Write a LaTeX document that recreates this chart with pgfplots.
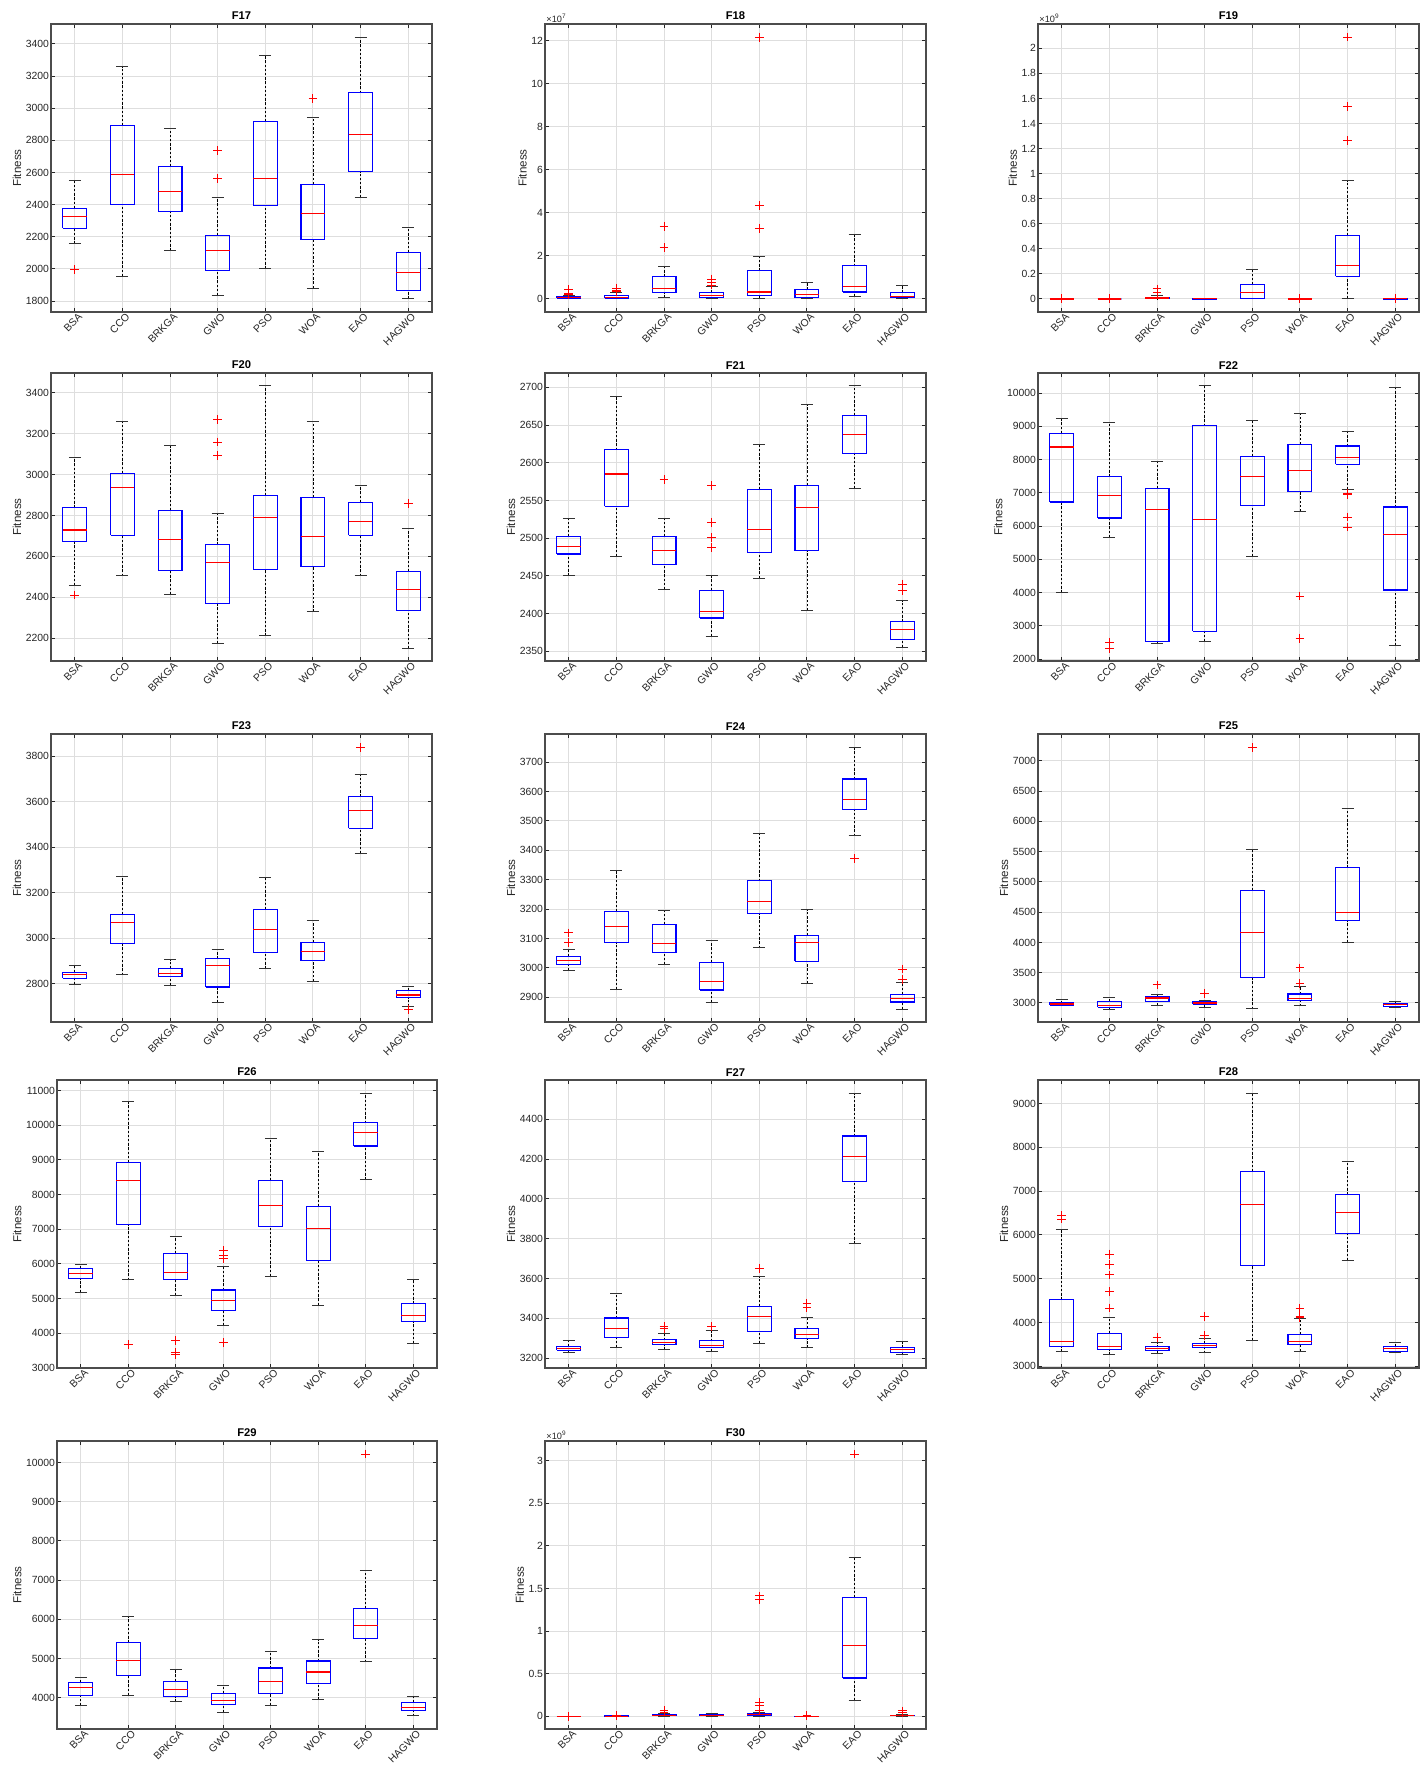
\documentclass[border=0pt]{standalone}
\usepackage{fontspec}
\setmainfont{Liberation Sans}
\usepackage{pgfplots}
\pgfplotsset{compat=1.18}

\definecolor{mgrid}{RGB}{222,222,222}
\definecolor{mtext}{RGB}{38,38,38}

\pgfplotsset{
  panel/.style={
    scale only axis, width=190.5pt, height=144pt, anchor=north west,
    xmin=0.5, xmax=8.5, xtick={1,...,8},
    xticklabels={BSA,CCO,BRKGA,GWO,PSO,WOA,EAO,HAGWO},
    xticklabel style={rotate=45, anchor=north east, inner sep=1pt, xshift=2pt},
    yticklabel style={inner sep=0.8pt},
    scaled y ticks=false,
    /pgf/number format/assume math mode=true,
    /pgf/number format/1000 sep={},
    tick label style={font=\fontsize{5.2}{6}\selectfont, text=mtext},
    label style={font=\fontsize{5.8}{7}\selectfont, text=mtext},
    title style={font=\fontsize{5.6}{7}\selectfont\bfseries, inner sep=0pt, yshift=-4.2pt},
    ylabel=Fitness, ylabel shift=-2pt,
    grid=major, major grid style={mgrid, line width=0.5pt},
    tick align=inside, tick pos=both, major tick length=2.2pt,
    tick style={mtext, line width=0.5pt},
    axis line style={black!70, line width=0.6pt},
  },
  whisk/.style={black, line width=0.4pt, dash pattern=on 1.2pt off 0.9pt, mark=none},
  cap/.style={black!80, line width=0.5pt, solid, mark=none},
  boxs/.style={blue, line width=0.55pt, solid, mark=none},
  med/.style={red, line width=0.55pt, solid, mark=none},
  outl/.style={only marks, mark=+, mark size=2.2pt,
    mark options={solid, red, line width=0.45pt}},
}

% position, lower whisker, lower quartile, median, upper quartile, upper whisker
\newcommand{\bx}[6]{%
  \pgfmathsetmacro{\xa}{#1-0.25}\pgfmathsetmacro{\xb}{#1+0.25}%
  \pgfmathsetmacro{\xc}{#1-0.125}\pgfmathsetmacro{\xd}{#1+0.125}%
  \edef\tmp{%
    \noexpand\addplot[whisk] coordinates {(#1,#2) (#1,#3)};
    \noexpand\addplot[whisk] coordinates {(#1,#5) (#1,#6)};
    \noexpand\addplot[cap] coordinates {(\xc,#2) (\xd,#2)};
    \noexpand\addplot[cap] coordinates {(\xc,#6) (\xd,#6)};
    \noexpand\addplot[boxs] coordinates {(\xa,#3) (\xb,#3) (\xb,#5) (\xa,#5) (\xa,#3)};
    \noexpand\addplot[med] coordinates {(\xa,#4) (\xb,#4)};
  }\tmp}

\newcommand{\expo}[1]{\node[anchor=south west, inner sep=0.5pt, text=mtext,
  font=\fontsize{4.6}{5}\selectfont] at (rel axis cs:0,1) {×10\textsuperscript{#1}};}

\begin{document}
\begin{tikzpicture}
\useasboundingbox (0,0) rectangle (714pt,-888.5pt);

% ---- row 1
\begin{axis}[panel, at={(25.5pt,-12pt)}, title={F17},
  ymin=1732, ymax=3524, ytick={1800,2000,...,3400}]
\bx{1}{2156}{2254}{2326}{2378}{2550}
\bx{2}{1955}{2399}{2586}{2892}{3259}
\bx{3}{2113}{2360}{2482}{2637}{2871}
\bx{4}{1835}{1989}{2113}{2210}{2442}
\bx{5}{2001}{2393}{2565}{2917}{3325}
\bx{6}{1881}{2183}{2343}{2527}{2942}
\bx{7}{2447}{2606}{2836}{3095}{3443}
\bx{8}{1814}{1866}{1976}{2103}{2258}
\addplot[outl] coordinates {(1,1997) (4,2737) (4,2561) (6,3060)};
\end{axis}

\begin{axis}[panel, at={(272.5pt,-12pt)}, title={F18}, clip=false,
  ymin=-0.61, ymax=12.76, ytick={0,2,...,12}]
\bx{1}{0}{0.02}{0.05}{0.09}{0.14}
\bx{2}{0}{0.03}{0.08}{0.15}{0.28}
\bx{3}{0.05}{0.28}{0.49}{1.02}{1.48}
\bx{4}{0.02}{0.06}{0.14}{0.28}{0.56}
\bx{5}{0.03}{0.15}{0.32}{1.30}{1.95}
\bx{6}{0.02}{0.06}{0.19}{0.42}{0.77}
\bx{7}{0.11}{0.32}{0.59}{1.53}{2.97}
\bx{8}{0.02}{0.05}{0.11}{0.28}{0.63}
\addplot[outl] coordinates {(1,0.42) (1,0.26) (1,0.19) (2,0.50) (2,0.40) (2,0.34)
  (3,3.37) (3,2.37) (4,0.92) (4,0.78) (4,0.64) (5,12.14) (5,4.35) (5,3.28)};
\expo{7}
\end{axis}

\begin{axis}[panel, at={(519pt,-12pt)}, title={F19}, clip=false,
  ymin=-0.104, ymax=2.194, ytick={0,0.2,...,2.01}]
\bx{1}{0}{0}{0}{0}{0}
\bx{2}{0}{0}{0}{0}{0}
\bx{3}{0}{0.003}{0.008}{0.013}{0.03}
\bx{4}{0}{0}{0.001}{0.003}{0.004}
\bx{5}{0}{0.005}{0.05}{0.114}{0.236}
\bx{6}{0}{0}{0}{0}{0}
\bx{7}{0.005}{0.18}{0.268}{0.507}{0.943}
\bx{8}{0}{0}{0.001}{0.002}{0.004}
\addplot[outl] coordinates {(1,0.001) (2,0.001) (3,0.08) (3,0.05) (6,0.001)
  (7,2.09) (7,1.538) (7,1.262) (8,0.006)};
\expo{9}
\end{axis}

% ---- row 2
\begin{axis}[panel, at={(25.5pt,-186.5pt)}, title={F20},
  ymin=2088, ymax=3497, ytick={2200,2400,...,3400}]
\bx{1}{2457}{2671}{2729}{2838}{3082}
\bx{2}{2504}{2703}{2938}{3007}{3262}
\bx{3}{2414}{2532}{2681}{2824}{3140}
\bx{4}{2174}{2369}{2568}{2657}{2809}
\bx{5}{2211}{2537}{2789}{2897}{3436}
\bx{6}{2329}{2550}{2698}{2888}{3262}
\bx{7}{2504}{2704}{2770}{2865}{2948}
\bx{8}{2149}{2333}{2436}{2526}{2737}
\addplot[outl] coordinates {(1,2411) (4,3271) (4,3159) (4,3094) (8,2860)};
\end{axis}

\begin{axis}[panel, at={(272.5pt,-186.5pt)}, title={F21},
  ymin=2337, ymax=2719, ytick={2350,2400,...,2700}]
\bx{1}{2450}{2479}{2489}{2502}{2526}
\bx{2}{2476}{2542}{2585}{2617}{2688}
\bx{3}{2432}{2465}{2483}{2502}{2526}
\bx{4}{2370}{2394}{2403}{2431}{2451}
\bx{5}{2447}{2481}{2512}{2565}{2624}
\bx{6}{2404}{2483}{2541}{2570}{2677}
\bx{7}{2566}{2612}{2637}{2663}{2702}
\bx{8}{2355}{2366}{2379}{2389}{2417}
\addplot[outl] coordinates {(3,2578) (4,2570) (4,2521) (4,2501) (4,2488)
  (8,2439) (8,2431)};
\end{axis}

\begin{axis}[panel, at={(519pt,-186.5pt)}, title={F22},
  ymin=1940, ymax=10605, ytick={2000,3000,...,10000}]
\bx{1}{3995}{6725}{8378}{8791}{9244}
\bx{2}{5667}{6242}{6907}{7481}{9113}
\bx{3}{2453}{2524}{6494}{7139}{7945}
\bx{4}{2524}{2836}{6202}{9013}{10232}
\bx{5}{5083}{6625}{7491}{8096}{9184}
\bx{6}{6443}{7027}{7683}{8458}{9375}
\bx{7}{7108}{7864}{8065}{8408}{8841}
\bx{8}{2403}{4076}{5738}{6574}{10181}
\addplot[outl] coordinates {(2,2504) (2,2312) (6,3894) (6,2625)
  (7,6990) (7,6950) (7,6272) (7,5970)};
\end{axis}

% ---- row 3
\begin{axis}[panel, at={(25.5pt,-367pt)}, title={F23},
  ymin=2631, ymax=3898, ytick={2800,3000,...,3800}]
\bx{1}{2797}{2824}{2841}{2849}{2878}
\bx{2}{2838}{2975}{3069}{3105}{3270}
\bx{3}{2793}{2832}{2844}{2866}{2906}
\bx{4}{2718}{2785}{2881}{2909}{2951}
\bx{5}{2865}{2935}{3039}{3126}{3266}
\bx{6}{2810}{2901}{2943}{2981}{3079}
\bx{7}{3374}{3483}{3561}{3622}{3718}
\bx{8}{2699}{2737}{2750}{2769}{2787}
\addplot[outl] coordinates {(7,3840) (8,2686)};
\end{axis}

\begin{axis}[panel, at={(272.5pt,-367pt)}, title={F24},
  ymin=2816, ymax=3796, ytick={2900,3000,...,3700}]
\bx{1}{2992}{3011}{3026}{3039}{3064}
\bx{2}{2927}{3085}{3140}{3192}{3333}
\bx{3}{3011}{3053}{3083}{3148}{3197}
\bx{4}{2882}{2925}{2955}{3019}{3094}
\bx{5}{3068}{3184}{3226}{3296}{3459}
\bx{6}{2947}{3023}{3085}{3111}{3198}
\bx{7}{3449}{3539}{3572}{3643}{3751}
\bx{8}{2860}{2884}{2897}{2909}{2950}
\addplot[outl] coordinates {(1,3119) (1,3086) (7,3371) (8,2996) (8,2961)};
\end{axis}

\begin{axis}[panel, at={(519pt,-367pt)}, title={F25},
  ymin=2686, ymax=7441, ytick={3000,3500,...,7000}]
\bx{1}{2951}{2962}{2984}{3000}{3050}
\bx{2}{2895}{2928}{2962}{3028}{3094}
\bx{3}{2956}{3028}{3083}{3105}{3143}
\bx{4}{2928}{2984}{3000}{3022}{3044}
\bx{5}{2901}{3424}{4168}{4862}{5540}
\bx{6}{2951}{3039}{3077}{3149}{3276}
\bx{7}{3997}{4361}{4488}{5231}{6212}
\bx{8}{2923}{2945}{2973}{2989}{3022}
\addplot[outl] coordinates {(3,3298) (4,3160) (5,7220) (6,3579) (6,3325)};
\end{axis}

% ---- row 4
\begin{axis}[panel, at={(28.5pt,-540pt)}, width=190pt, title={F26},
  ymin=2990, ymax=11310, ytick={3000,4000,...,11000}]
\bx{1}{5186}{5573}{5718}{5873}{5970}
\bx{2}{5535}{7131}{8408}{8930}{10700}
\bx{3}{5099}{5535}{5747}{6299}{6802}
\bx{4}{4219}{4664}{4944}{5244}{5931}
\bx{5}{5641}{7073}{7672}{8417}{9617}
\bx{6}{4809}{6105}{7024}{7663}{9249}
\bx{7}{8427}{9404}{9781}{10071}{10923}
\bx{8}{3697}{4325}{4509}{4848}{5544}
\addplot[outl] coordinates {(2,3668) (3,3784) (3,3445) (3,3377)
  (4,6376) (4,6250) (4,6163) (4,3716)};
\end{axis}

\begin{axis}[panel, at={(272.5pt,-540pt)}, title={F27},
  ymin=3151, ymax=4597, ytick={3200,3400,...,4400}]
\bx{1}{3230}{3240}{3249}{3261}{3291}
\bx{2}{3254}{3304}{3350}{3402}{3523}
\bx{3}{3245}{3269}{3279}{3292}{3324}
\bx{4}{3234}{3252}{3266}{3287}{3340}
\bx{5}{3274}{3336}{3410}{3461}{3610}
\bx{6}{3252}{3298}{3319}{3350}{3403}
\bx{7}{3775}{4086}{4212}{4316}{4529}
\bx{8}{3217}{3229}{3242}{3252}{3286}
\addplot[outl] coordinates {(3,3358) (3,3350) (4,3358) (5,3652) (6,3476) (6,3456)};
\end{axis}

\begin{axis}[panel, at={(519pt,-540pt)}, title={F28},
  ymin=2962, ymax=9535, ytick={3000,4000,...,9000}]
\bx{1}{3336}{3451}{3566}{4521}{6126}
\bx{2}{3268}{3375}{3451}{3749}{4116}
\bx{3}{3298}{3359}{3398}{3443}{3543}
\bx{4}{3306}{3428}{3474}{3520}{3627}
\bx{5}{3596}{5308}{6699}{7448}{9229}
\bx{6}{3344}{3489}{3558}{3726}{4093}
\bx{7}{5423}{6027}{6508}{6913}{7685}
\bx{8}{3306}{3336}{3398}{3459}{3543}
\addplot[outl] coordinates {(1,6440) (1,6363) (2,5561) (2,5324) (2,5087)
  (2,4705) (2,4330) (3,3650) (4,4131) (4,3703) (6,4322) (6,4140) (6,4110)};
\end{axis}

% ---- row 5
\begin{axis}[panel, at={(28.5pt,-720.5pt)}, width=190pt, title={F29},
  ymin=3205, ymax=10547, ytick={4000,5000,...,10000}]
\bx{1}{3803}{4051}{4256}{4402}{4530}
\bx{2}{4068}{4564}{4949}{5402}{6068}
\bx{3}{3906}{4034}{4222}{4427}{4718}
\bx{4}{3624}{3821}{3923}{4120}{4325}
\bx{5}{3812}{4103}{4427}{4761}{5188}
\bx{6}{3949}{4376}{4658}{4940}{5479}
\bx{7}{4915}{5504}{5846}{6274}{7248}
\bx{8}{3539}{3684}{3761}{3889}{4026}
\addplot[outl] coordinates {(7,10214)};
\end{axis}

\begin{axis}[panel, at={(272.5pt,-720.5pt)}, title={F30}, clip=false,
  ymin=-0.1496, ymax=3.232, ytick={0,0.5,...,3.01}]
\bx{1}{0}{0}{0}{0}{0}
\bx{2}{0}{0}{0.002}{0.004}{0.008}
\bx{3}{0}{0.008}{0.012}{0.016}{0.03}
\bx{4}{0}{0.004}{0.012}{0.016}{0.03}
\bx{5}{0}{0.004}{0.016}{0.031}{0.043}
\bx{6}{0}{0}{0.001}{0.002}{0.003}
\bx{7}{0.189}{0.449}{0.831}{1.394}{1.862}
\bx{8}{0}{0.004}{0.008}{0.012}{0.024}
\addplot[outl] coordinates {(1,0.001) (2,0.012) (3,0.07) (3,0.05)
  (5,1.413) (5,1.374) (5,0.161) (5,0.122) (5,0.07) (6,0.005)
  (7,3.079) (8,0.063) (8,0.04)};
\expo{9}
\end{axis}
\end{tikzpicture}
\end{document}
